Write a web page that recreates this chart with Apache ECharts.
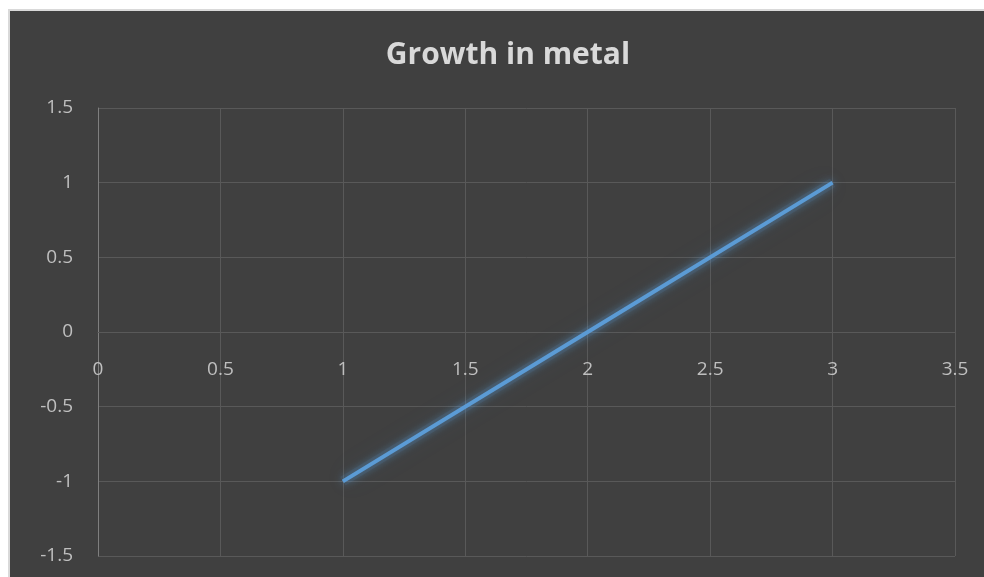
<!DOCTYPE html>
<html>
<head>
<meta charset="utf-8">
<script src="https://cdn.jsdelivr.net/npm/echarts@6/dist/echarts.min.js"></script>
<style>
html, body { margin: 0; padding: 0; width: 984px; height: 577px; overflow: hidden; background: #fff; }
.frame {
    position: absolute; left: 8px; top: 9px; width: 976px; height: 568px;
    background: #404040; border-left: 2px solid #d9d9d9; border-top: 2px solid #d9d9d9;
}
#chart { position: absolute; left: 0; top: 0; width: 984px; height: 577px; }
</style>
</head>
<body>
<div class="frame"></div>
<div id="chart"></div>
<script>
// data
const xValues = [1, 2, 3];
const yValues = [-1, 0, 1];
const xTicks = [0, 0.5, 1, 1.5, 2, 2.5, 3, 3.5];
const yTicks = [-1.5, -1, -0.5, 0, 0.5, 1, 1.5];

const points = xValues.map((x, i) => [x, yValues[i]]);

const chart = echarts.init(document.getElementById('chart'));
const labelColor = '#bfbfbf';
const gridColor = '#595959';

// grid box in pixels, x axis is drawn where y = 0
const gridTop = 108, gridBottom = 21;
const plotH = 577 - gridTop - gridBottom;
const zeroOffset = -plotH * (0 - yTicks[0]) / (yTicks[yTicks.length - 1] - yTicks[0]);

chart.setOption({
    backgroundColor: 'transparent',
    textStyle: { fontFamily: 'Open Sans' },
    title: {
        text: 'Growth in metal',
        left: 503,
        textAlign: 'center',
        top: 35,
        textStyle: { color: '#d9d9d9', fontSize: 30, fontWeight: 'bold', fontFamily: 'Open Sans' }
    },
    grid: { left: 98, top: gridTop, right: 29, bottom: gridBottom, containLabel: false, outerBoundsMode: 'none' },
    xAxis: {
        type: 'value',
        position: 'bottom',
        offset: zeroOffset,
        min: xTicks[0],
        max: xTicks[xTicks.length - 1],
        interval: 0.5,
        axisLine: { onZero: false, lineStyle: { color: gridColor, width: 1 } },
        axisTick: { show: false },
        axisLabel: { color: labelColor, fontSize: 19, margin: 28 },
        splitLine: { show: true, lineStyle: { color: gridColor, width: 1 } }
    },
    yAxis: {
        type: 'value',
        min: yTicks[0],
        max: yTicks[yTicks.length - 1],
        interval: 0.5,
        axisLine: { show: true, onZero: false, lineStyle: { color: '#7f7f7f', width: 1 } },
        axisTick: { show: false },
        axisLabel: { color: labelColor, fontSize: 19, margin: 25 },
        splitLine: { show: true, lineStyle: { color: gridColor, width: 1 } }
    },
    series: [
        {
            // soft glow under the line
            type: 'line',
            data: points,
            symbol: 'none',
            silent: true,
            lineStyle: {
                color: 'rgba(91,155,213,0.1)',
                width: 10,
                shadowBlur: 26,
                shadowColor: 'rgba(91,155,213,0.75)'
            }
        },
        {
            type: 'line',
            data: points,
            symbol: 'none',
            lineStyle: {
                color: '#5b9bd5',
                width: 4,
                shadowBlur: 10,
                shadowColor: 'rgba(91,155,213,0.8)'
            }
        }
    ]
});
</script>
</body>
</html>
